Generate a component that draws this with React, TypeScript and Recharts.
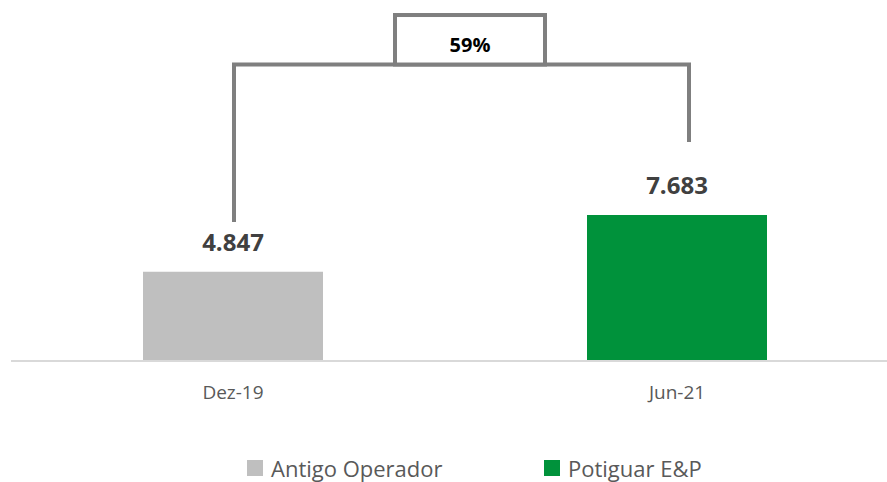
import { BarChart, Bar, XAxis, YAxis, Cell, LabelList, ReferenceLine, Legend } from 'recharts';

// Dados do gráfico
const categories = ['Dez-19', 'Jun-21'];
const values = [4847, 7683];
const seriesNames = ['Antigo Operador', 'Potiguar E&P'];
const growthLabel = '59%';

// níveis do colchete de variação (em unidades do eixo y)
const bracketTop = 15190;
const bracketLeftEnd = 7334;
const bracketRightEnd = 11324;

const colors = ['#bfbfbf', '#00923b'];
const lineColor = '#7f7f7f';

const fmt = (v: number) => String(v).replace(/\B(?=(\d{3})+(?!\d))/g, '.');

const data = categories.map((cat, i) => ({ cat, value: values[i] }));

const vLine = (dx: number) => (p: any) => (
    <line x1={p.x1 + dx} y1={p.y1} x2={p.x2 + dx} y2={p.y2} stroke={lineColor} strokeWidth={4} />
);

const topLine = (p: any) => {
    const x1 = p.x1 + 1;
    const x2 = p.x2 + 12;
    const mid = (x1 + x2) / 2 + 8.5;
    return (
        <g>
            <line x1={x1 - 2} y1={p.y1} x2={x2 + 2} y2={p.y2} stroke={lineColor} strokeWidth={4} />
            <rect x={mid - 75} y={p.y1 - 49.5} width={150} height={49.5} fill="#fff" stroke={lineColor} strokeWidth={4} />
            <text x={mid} y={p.y1 - 12.5} textAnchor="middle" fontSize={20} fontWeight="bold" fill="#000">
                {growthLabel}
            </text>
        </g>
    );
};

const LegendContent = () => (
    <div style={{ display: 'flex', alignItems: 'center', paddingLeft: 247, paddingTop: 22, height: 50, boxSizing: 'border-box' }}>
        {seriesNames.map((name, i) => (
            <div key={name} style={{ display: 'flex', alignItems: 'center', width: i === 0 ? 297 : 'auto' }}>
                <span style={{ width: 16, height: 16, background: colors[i], marginRight: 8, display: 'inline-block' }} />
                <span style={{ fontSize: 22, lineHeight: '24px', color: '#595959' }}>{name}</span>
            </div>
        ))}
    </div>
);

export default function App() {
    return (
        <div style={{ position: 'absolute', left: 0, top: 0, width: 887, height: 482, overflow: 'hidden', background: '#fff', fontFamily: "'Open Sans', sans-serif" }}>
            <BarChart width={900} height={482} data={data} margin={{ top: 13, right: 1, bottom: 0, left: 11 }}>
                <XAxis
                    dataKey="cat"
                    height={71}
                    axisLine={{ stroke: '#d9d9d9', strokeWidth: 2 }}
                    tickLine={false}
                    tickMargin={19}
                    tick={{ fill: '#595959', fontSize: 19 }}
                />
                <YAxis hide domain={[400, 17760]} allowDataOverflow />
                <Bar dataKey="value" barSize={180} isAnimationActive={false}>
                    {data.map((d, i) => (
                        <Cell key={d.cat} fill={colors[i]} />
                    ))}
                    <LabelList
                        dataKey="value"
                        position="top"
                        offset={21}
                        formatter={(v: any) => fmt(Number(v))}
                        fill="#404040"
                        fontSize={24}
                        fontWeight="bold"
                    />
                </Bar>
                <ReferenceLine
                    segment={[{ x: categories[0], y: bracketLeftEnd }, { x: categories[0], y: bracketTop }]}
                    shape={vLine(1)}
                />
                <ReferenceLine
                    segment={[{ x: categories[1], y: bracketRightEnd }, { x: categories[1], y: bracketTop }]}
                    shape={vLine(12)}
                />
                <ReferenceLine
                    segment={[{ x: categories[0], y: bracketTop }, { x: categories[1], y: bracketTop }]}
                    shape={topLine}
                />
                <Legend
                    verticalAlign="bottom"
                    height={50}
                    wrapperStyle={{ left: 0, bottom: 0, width: 887 }}
                    content={() => <LegendContent />}
                />
            </BarChart>
        </div>
    );
}
